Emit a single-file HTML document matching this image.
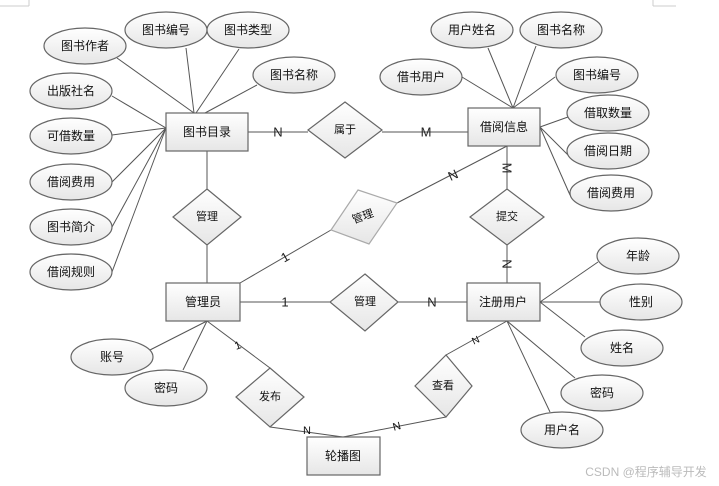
<!DOCTYPE html>
<html><head><meta charset="utf-8"><style>
html,body{margin:0;padding:0;background:#fff;width:719px;height:486px;overflow:hidden}
svg{display:block}
text{font-family:"Liberation Sans","Noto Sans CJK SC",sans-serif;font-size:12px;fill:#111;text-anchor:middle;dominant-baseline:central}
.l{stroke:#555;stroke-width:1;fill:none}
.s{fill:url(#g);stroke:#666;stroke-width:1.2}
.lb{font-size:13px;fill:#222}
</style></head><body>
<svg width="719" height="486" viewBox="0 0 719 486">
<defs><linearGradient id="g" x1="0" y1="0" x2="0" y2="1"><stop offset="0" stop-color="#fff"/><stop offset="1" stop-color="#e6e6e6"/></linearGradient></defs>
<path d="M0 6H29M29 0V6M653 6H676M653 0V6" stroke="#ccc" fill="none"/>
<g class="l">
<line x1="166" y1="128" x2="112" y2="96"/><line x1="166" y1="128" x2="112" y2="135"/><line x1="166" y1="128" x2="112" y2="182"/><line x1="166" y1="128" x2="112" y2="227"/><line x1="166" y1="128" x2="112" y2="272"/>
<line x1="194" y1="113" x2="117" y2="58"/><line x1="194" y1="113" x2="186" y2="48"/><line x1="196" y1="113" x2="239" y2="49"/><line x1="205" y1="113" x2="257" y2="85"/>
<line x1="248" y1="132" x2="308" y2="132"/><line x1="382" y1="132" x2="468" y2="132"/>
<line x1="207" y1="151" x2="207" y2="189"/><line x1="207" y1="245" x2="207" y2="283"/>
<line x1="240" y1="283" x2="331" y2="230"/><line x1="397" y1="203" x2="507" y2="146"/>
<line x1="507" y1="146" x2="507" y2="189"/><line x1="507" y1="245" x2="507" y2="283"/>
<line x1="240" y1="302" x2="330" y2="302"/><line x1="398" y1="302" x2="467" y2="302"/>
<line x1="513" y1="108" x2="462" y2="77"/><line x1="513" y1="108" x2="488" y2="48"/><line x1="513" y1="108" x2="536" y2="46"/><line x1="513" y1="108" x2="555" y2="77"/>
<line x1="540" y1="127" x2="568" y2="117"/><line x1="540" y1="127" x2="568" y2="155"/><line x1="540" y1="127" x2="570" y2="195"/>
<line x1="540" y1="302" x2="598" y2="262"/><line x1="540" y1="302" x2="600" y2="302"/><line x1="540" y1="302" x2="585" y2="337"/><line x1="507" y1="321" x2="575" y2="378"/><line x1="507" y1="321" x2="550" y2="412"/>
<line x1="207" y1="321" x2="146" y2="352"/><line x1="207" y1="321" x2="183" y2="370"/><line x1="207" y1="321" x2="270" y2="368"/>
<line x1="270" y1="427" x2="343" y2="437"/><line x1="446" y1="417" x2="343" y2="437"/><line x1="446" y1="355" x2="507" y2="321"/>
</g>
<g class="s">
<ellipse cx="85" cy="46" rx="41" ry="18"/><ellipse cx="166" cy="30" rx="41" ry="18"/><ellipse cx="248" cy="30" rx="41" ry="18"/><ellipse cx="294" cy="75" rx="41" ry="18"/>
<ellipse cx="71" cy="91" rx="41" ry="18"/><ellipse cx="71" cy="136" rx="41" ry="18"/><ellipse cx="71" cy="182" rx="41" ry="18"/><ellipse cx="71" cy="227" rx="41" ry="18"/><ellipse cx="71" cy="272" rx="41" ry="18"/>
<ellipse cx="472" cy="30" rx="41" ry="18"/><ellipse cx="561" cy="30" rx="41" ry="18"/><ellipse cx="421" cy="77" rx="41" ry="18"/><ellipse cx="597" cy="75" rx="41" ry="18"/>
<ellipse cx="608" cy="113" rx="41" ry="18"/><ellipse cx="608" cy="151" rx="41" ry="18"/><ellipse cx="611" cy="193" rx="41" ry="18"/>
<ellipse cx="638" cy="256" rx="41" ry="18"/><ellipse cx="641" cy="302" rx="41" ry="18"/><ellipse cx="622" cy="348" rx="41" ry="18"/><ellipse cx="602" cy="393" rx="41" ry="18"/><ellipse cx="562" cy="430" rx="41" ry="18"/>
<ellipse cx="112" cy="357" rx="41" ry="18"/><ellipse cx="166" cy="388" rx="41" ry="18"/>
<rect x="166" y="113" width="82" height="38"/><rect x="468" y="108" width="72" height="38"/><rect x="166" y="283" width="74" height="38"/><rect x="467" y="283" width="73" height="38"/><rect x="307" y="437" width="73" height="38"/>
<polygon points="345,102 382,130 345,158 308,130"/><polygon points="207,189 241,217 207,245 173,217"/><polygon points="507,189 544,217 507,245 470,217"/>
<polygon points="365,274 398,302 365,331 330,302"/><polygon points="270,368 304,397 270,427 236,397"/><polygon points="446,355 472,386 446,417 415,386"/>
<polygon points="358,190 397,203 369,244 331,230" style="stroke:#aaa"/>
</g>
<text x="85" y="46">图书作者</text><text x="166" y="30">图书编号</text><text x="248" y="30">图书类型</text><text x="294" y="75">图书名称</text>
<text x="71" y="91">出版社名</text><text x="71" y="136">可借数量</text><text x="71" y="182">借阅费用</text><text x="71" y="227">图书简介</text><text x="71" y="272">借阅规则</text>
<text x="472" y="30">用户姓名</text><text x="561" y="30">图书名称</text><text x="421" y="77">借书用户</text><text x="597" y="75">图书编号</text>
<text x="608" y="113">借取数量</text><text x="608" y="151">借阅日期</text><text x="611" y="193">借阅费用</text>
<text x="638" y="256">年龄</text><text x="641" y="302">性别</text><text x="622" y="348">姓名</text><text x="602" y="393">密码</text><text x="562" y="430">用户名</text>
<text x="112" y="357">账号</text><text x="166" y="388">密码</text>
<text x="207" y="132">图书目录</text><text x="504" y="127">借阅信息</text><text x="203" y="302">管理员</text><text x="503" y="302">注册用户</text><text x="343" y="456">轮播图</text>
<text x="345" y="130" style="font-size:11px">属于</text><text x="207" y="217" style="font-size:11px">管理</text><text x="507" y="217" style="font-size:11px">提交</text><text x="365" y="302" style="font-size:11px">管理</text><text x="270" y="397" style="font-size:11px">发布</text><text x="443" y="386" style="font-size:11px">查看</text>
<text x="363" y="217" style="font-size:11px" transform="rotate(-20 363 217)">管理</text>
<text class="lb" x="278" y="132">N</text><text class="lb" x="426" y="132">M</text><text class="lb" x="453" y="175" transform="rotate(-25 453 175)">N</text><text class="lb" x="285" y="257" transform="rotate(-30 285 257)">1</text>
<text class="lb" x="507" y="168" transform="rotate(90 507 168)">M</text><text class="lb" x="507" y="264" transform="rotate(90 507 264)">N</text>
<text class="lb" x="285" y="302">1</text><text class="lb" x="432" y="302">N</text>
<text x="238" y="346" style="font-size:11px" transform="rotate(-20 238 346)">1</text><text x="476" y="341" style="font-size:10px" transform="rotate(-25 476 341)">N</text>
<text x="307" y="431" style="font-size:11px">N</text><text x="397" y="427" style="font-size:11px" transform="rotate(-15 397 427)">N</text>
<text x="646" y="472" style="font-size:12px;fill:#bbb">CSDN @程序辅导开发</text>
</svg>
</body></html>
